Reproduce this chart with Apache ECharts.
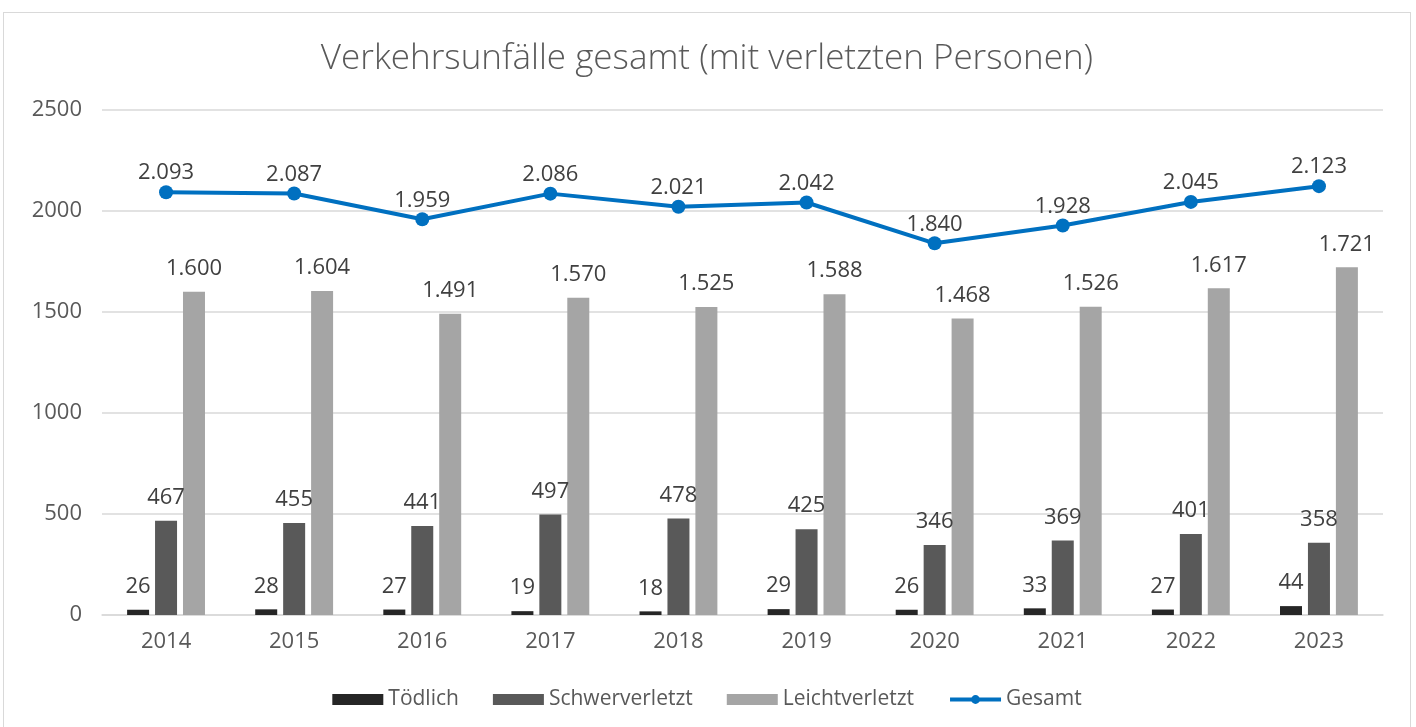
<!DOCTYPE html>
<html style="height: 100%">
<head>
<meta charset="utf-8">
<script src="https://cdn.jsdelivr.net/npm/echarts@6/dist/echarts.min.js"></script>
</head>
<body style="margin: 0; background: #fff">
<div id="container" style="position: absolute; left: 3px; top: 12px; width: 1408px; height: 730px; border: 1.5px solid #d9d9d9; box-sizing: border-box"></div>
<script type="text/javascript">
// Daten
var years = ['2014', '2015', '2016', '2017', '2018', '2019', '2020', '2021', '2022', '2023'];
var toedlich = [26, 28, 27, 19, 18, 29, 26, 33, 27, 44];
var schwer = [467, 455, 441, 497, 478, 425, 346, 369, 401, 358];
var leicht = [1600, 1604, 1491, 1570, 1525, 1588, 1468, 1526, 1617, 1721];
var gesamt = [2093, 2087, 1959, 2086, 2021, 2042, 1840, 1928, 2045, 2123];
var yTicks = [0, 500, 1000, 1500, 2000, 2500];

var fontFam = '"Open Sans", "Noto Sans", sans-serif';

function fmt(v) {
    return String(v).replace(/\B(?=(\d{3})+(?!\d))/g, '.');
}

function mkLabel(dist) {
    return {
        show: true,
        position: 'top',
        distance: dist,
        color: '#404040',
        fontSize: 22,
        fontFamily: fontFam,
        formatter: function (p) { return fmt(p.value); }
    };
}

var myChart = echarts.init(document.getElementById('container'));
var option = {
    animation: false,
    title: {
        text: 'Verkehrsunfälle gesamt (mit verletzten Personen)',
        left: 'center',
        top: 24,
        textStyle: { color: '#595959', fontSize: 35, fontWeight: 300, fontFamily: fontFam }
    },
    legend: {
        top: 671,
        left: 'center',
        itemWidth: 51,
        itemHeight: 11,
        itemGap: 34,
        textStyle: { color: '#595959', fontSize: 21, fontFamily: fontFam },
        data: [
            { name: 'Tödlich', icon: 'rect' },
            { name: 'Schwerverletzt', icon: 'rect' },
            { name: 'Leichtverletzt', icon: 'rect' },
            { name: 'Gesamt', lineStyle: { width: 4 } }
        ]
    },
    grid: { left: 98, right: 27, top: 97, bottom: 126 },
    xAxis: {
        type: 'category',
        data: years,
        axisLine: { lineStyle: { color: '#d9d9d9', width: 1.5 } },
        axisTick: { show: false },
        axisLabel: { color: '#595959', fontSize: 22, fontFamily: fontFam, margin: 16 }
    },
    yAxis: {
        type: 'value',
        min: yTicks[0],
        max: yTicks[yTicks.length - 1],
        interval: 500,
        axisLine: { show: false },
        axisTick: { show: false },
        axisLabel: {
            color: '#595959', fontSize: 22, fontFamily: fontFam, margin: 20,
            formatter: function (v) { return String(v); }
        },
        splitLine: { lineStyle: { color: '#d9d9d9', width: 1.5 } }
    },
    series: [
        {
            name: 'Tödlich', type: 'bar', data: toedlich,
            barWidth: 22, barGap: '27%',
            itemStyle: { color: '#262626' },
            label: mkLabel(12)
        },
        {
            name: 'Schwerverletzt', type: 'bar', data: schwer,
            barWidth: 22, barGap: '27%',
            itemStyle: { color: '#595959' },
            label: mkLabel(12)
        },
        {
            name: 'Leichtverletzt', type: 'bar', data: leicht,
            barWidth: 22, barGap: '27%',
            itemStyle: { color: '#a5a5a5' },
            label: mkLabel(12)
        },
        {
            name: 'Gesamt', type: 'line', data: gesamt,
            symbol: 'circle', symbolSize: 14,
            lineStyle: { color: '#0070c0', width: 4 },
            itemStyle: { color: '#0070c0' },
            label: mkLabel(1)
        }
    ]
};
myChart.setOption(option);
</script>
</body>
</html>
